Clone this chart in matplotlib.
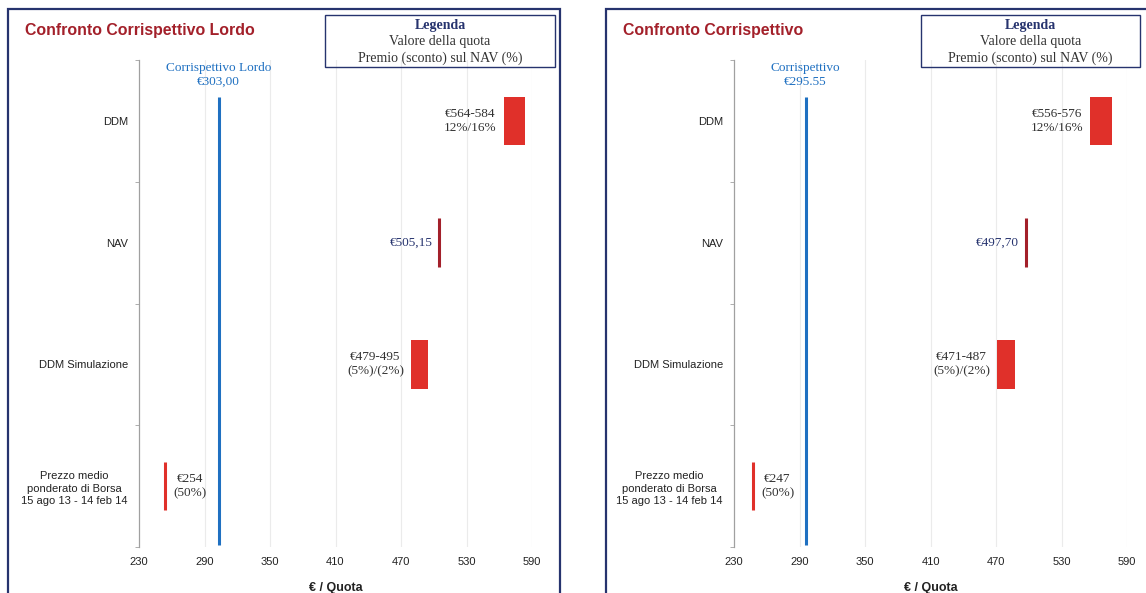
import matplotlib.pyplot as plt
from matplotlib.patches import Rectangle

# data
categories = ['DDM', 'NAV', 'DDM Simulazione',
              'Prezzo medio\nponderato di Borsa\n15 ago 13 - 14 feb 14']
x_ticks = [230, 290, 350, 410, 470, 530, 590]

left_title = 'Confronto Corrispettivo Lordo'
left_ref_name = 'Corrispettivo Lordo'
left_ref_value = 303.00
left_ref_text = '€303,00'
left_low = [564, 505.15, 479, 254]
left_high = [584, 505.15, 495, 254]
left_labels = ['€564-584\n12%/16%', '€505,15', '€479-495\n(5%)/(2%)', '€254\n(50%)']

right_title = 'Confronto Corrispettivo'
right_ref_name = 'Corrispettivo'
right_ref_value = 295.55
right_ref_text = '€295.55'
right_low = [556, 497.70, 471, 247]
right_high = [576, 497.70, 487, 247]
right_labels = ['€556-576\n12%/16%', '€497,70', '€471-487\n(5%)/(2%)', '€247\n(50%)']

NAVY = '#26336E'
DARKRED = '#A3202A'
RED = '#E0302A'
BLUE = '#1F70C1'
SERIF = 'Liberation Serif'
SANS = 'Liberation Sans'

W, H = 1146, 593
fig = plt.figure(figsize=(W / 100, H / 100), dpi=100)


def px(x0, y0, x1, y1):
    # pixel box -> figure fraction [left, bottom, width, height]
    return [x0 / W, 1 - y1 / H, (x1 - x0) / W, (y1 - y0) / H]


def panel(frame, axbox, legbox, title, ref_name, ref_val, ref_txt, low, high, labels):
    fx0, fy0, fx1, fy1 = frame
    fig.patches.append(Rectangle((fx0 / W, 1 - fy1 / H), (fx1 - fx0) / W, (fy1 - fy0) / H,
                                 transform=fig.transFigure, fill=False,
                                 edgecolor=NAVY, lw=1.6))
    fig.text((fx0 + 17) / W, 1 - 30 / H, title, color=DARKRED, fontsize=11.4,
             fontweight='bold', family=SANS, va='center', ha='left')

    lx0, ly0, lx1, ly1 = legbox
    fig.patches.append(Rectangle((lx0 / W, 1 - ly1 / H), (lx1 - lx0) / W, (ly1 - ly0) / H,
                                 transform=fig.transFigure, fill=False,
                                 edgecolor=NAVY, lw=1.0))
    cx = (lx0 + lx1) / 2 / W
    fig.text(cx, 1 - 26 / H, 'Legenda', color=NAVY, fontsize=10, fontweight='bold',
             family=SERIF, ha='center', va='center')
    fig.text(cx, 1 - 42 / H, 'Valore della quota', color='#333333', fontsize=10,
             family=SERIF, ha='center', va='center')
    fig.text(cx, 1 - 58 / H, 'Premio (sconto) sul NAV (%)', color='#333333', fontsize=10,
             family=SERIF, ha='center', va='center')

    ax = fig.add_axes(px(*axbox))
    ax.set_xlim(x_ticks[0], x_ticks[-1])
    ax.set_ylim(len(categories) - 0.5, -0.5)
    ax.set_xticks(x_ticks)
    ax.set_yticks(range(len(categories)))
    ax.set_yticklabels(categories, family=SANS, fontsize=8, color='#222222',
                       multialignment='center', linespacing=1.35)
    ax.set_yticks([i - 0.5 for i in range(len(categories) + 1)], minor=True)
    ax.tick_params(axis='y', which='major', length=0, pad=8)
    ax.tick_params(axis='y', which='minor', length=3, color='#A0A0A0', direction='out')
    ax.tick_params(axis='x', length=0, labelsize=8, pad=7)
    for lab in ax.get_xticklabels():
        lab.set_family(SANS)
        lab.set_color('#222222')
    for s in ['top', 'right', 'bottom']:
        ax.spines[s].set_visible(False)
    ax.spines['left'].set_color('#A0A0A0')
    ax.spines['left'].set_linewidth(0.9)
    for t in x_ticks[1:]:
        ax.axvline(t, color='#EBEBEB', lw=0.8, zorder=0)
    ax.set_xlabel('€ / Quota', family=SANS, fontsize=9, fontweight='bold',
                  color='#222222', labelpad=11)

    bh = 0.4
    for i, (lo, hi, lab) in enumerate(zip(low, high, labels)):
        if hi > lo:
            ax.barh(i, hi - lo, left=lo, height=bh, color=RED, zorder=3)
            ax.annotate(lab, (lo, i), xytext=(-5, 0), textcoords='offset points',
                        ha='right', va='center', family=SERIF, fontsize=9.5,
                        color='#333333', multialignment='center')
        else:
            col = DARKRED if i == 1 else RED
            ax.vlines(lo, i - bh / 2, i + bh / 2, color=col, lw=2.2, zorder=3)
            if lo > ref_val:
                ax.annotate(lab, (lo, i), xytext=(-5, 0), textcoords='offset points',
                            ha='right', va='center', family=SERIF, fontsize=9.5,
                            color=NAVY)
            else:
                ax.annotate(lab, (lo, i), xytext=(6, 0), textcoords='offset points',
                            ha='left', va='center', family=SERIF, fontsize=9.5,
                            color='#333333', multialignment='center')

    ax.vlines(ref_val, -bh / 2, len(categories) - 0.52, color=BLUE, lw=2.2, zorder=4)
    ax.text(ref_val, -0.27, ref_name + '\n' + ref_txt, color=BLUE, family=SERIF,
            fontsize=9.5, ha='center', va='bottom', multialignment='center')
    return ax


panel((8, 9, 560, 640), (139, 60, 532, 547), (325, 15, 555, 67),
      left_title, left_ref_name, left_ref_value, left_ref_text,
      left_low, left_high, left_labels)
panel((606, 9, 1180, 640), (734, 60, 1127, 547), (921, 15, 1140, 67),
      right_title, right_ref_name, right_ref_value, right_ref_text,
      right_low, right_high, right_labels)

fig.savefig('out.png', dpi=100)
